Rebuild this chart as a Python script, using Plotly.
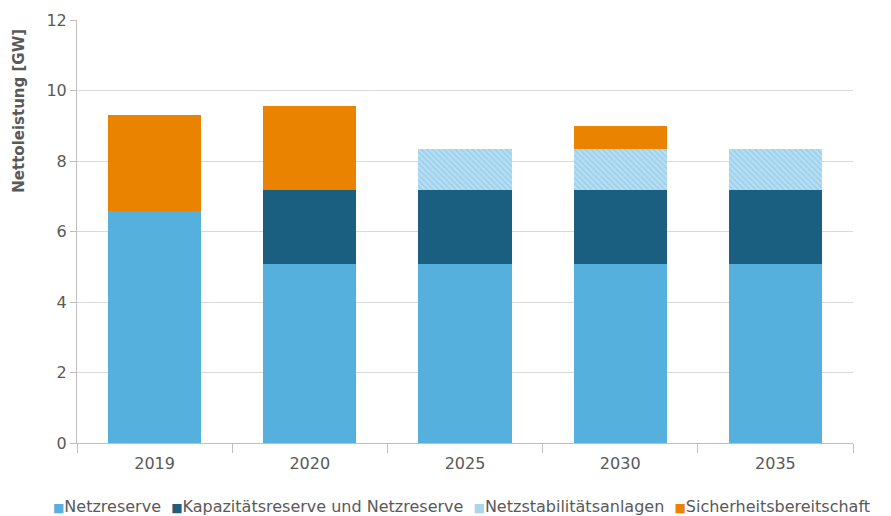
import plotly.graph_objects as go

years = ["2019", "2020", "2025", "2030", "2035"]
netzreserve = [6.58, 5.08, 5.08, 5.08, 5.08]
kapazitaetsreserve = [0, 2.10, 2.10, 2.10, 2.10]
netzstabilitaet = [0, 0, 1.16, 1.16, 1.16]
sicherheitsbereitschaft = [2.72, 2.38, 0, 0.65, 0]

series = [
    ("Netzreserve", netzreserve, "#56b0dd", None),
    ("Kapazitätsreserve und Netzreserve", kapazitaetsreserve, "#1b5f80", None),
    ("Netzstabilitätsanlagen", netzstabilitaet, "#b3dcf1",
     dict(shape="\\", fgcolor="#7cc2e6", bgcolor="#b8def2", size=4, solidity=0.45)),
    ("Sicherheitsbereitschaft", sicherheitsbereitschaft, "#e98300", None),
]
legend_swatch = {"Netzstabilitätsanlagen": "#a6d5ee"}

grey_text = "#595959"
font_family = "DejaVu Sans, Verdana, sans-serif"

fig = go.Figure()
for name, values, color, pattern in series:
    marker = dict(color=color, line=dict(width=0))
    if pattern:
        marker["pattern"] = pattern
    fig.add_trace(go.Bar(x=years, y=values, name=name, marker=marker, showlegend=False))

# single-row legend drawn as rich text
legend_parts = []
for name, _, color, _ in series:
    sw = legend_swatch.get(name, color)
    legend_parts.append(
        f'<span style="color:{sw};font-size:12px">■</span>{name}'
    )
legend_text = "&nbsp;&nbsp;".join(legend_parts)

fig.add_annotation(
    text=legend_text, xref="paper", yref="paper", x=0.495, y=-0.151,
    xanchor="center", yanchor="middle", showarrow=False,
    font=dict(family=font_family, size=16, color=grey_text),
)

# y-axis title placed toward the top of the axis
fig.add_annotation(
    text="<b>Nettoleistung [GW]</b>", xref="paper", yref="paper",
    x=-0.075, y=0.785, xanchor="center", yanchor="middle", textangle=-90,
    showarrow=False, font=dict(family=font_family, size=15, color=grey_text),
)

fig.update_layout(
    barmode="stack",
    bargap=0.4,
    width=891, height=516,
    margin=dict(l=77, r=38, t=20, b=73),
    plot_bgcolor="white",
    paper_bgcolor="white",
    font=dict(family=font_family, color=grey_text, size=15),
    showlegend=False,
    xaxis=dict(showline=True, linecolor="#bfbfbf", linewidth=1,
               ticks="outside", tickson="boundaries", ticklen=9, tickcolor="#bfbfbf",
               ticklabelstandoff=6,
               tickfont=dict(size=16, color=grey_text)),
    yaxis=dict(range=[0, 12], dtick=2, showgrid=True, gridcolor="#d9d9d9", gridwidth=1,
               showline=True, linecolor="#bfbfbf", linewidth=1,
               ticks="outside", ticklen=6, tickcolor="#bfbfbf",
               tickfont=dict(size=16, color=grey_text),
               zeroline=False),
)

fig.write_html("out.html")
